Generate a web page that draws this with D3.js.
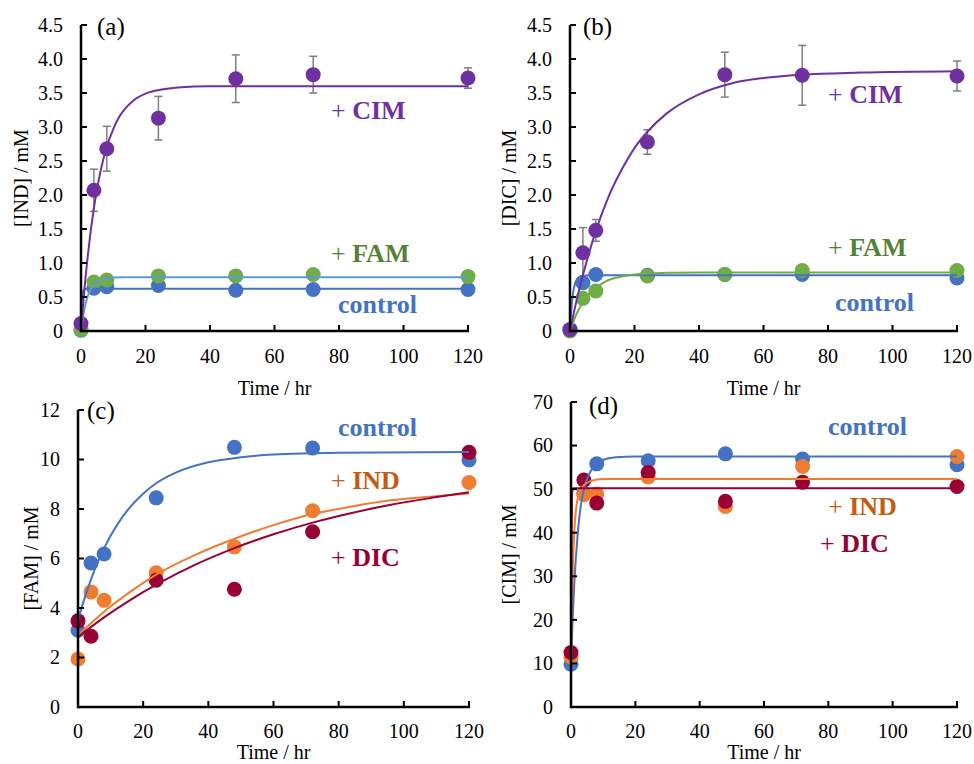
<!DOCTYPE html>
<html>
<head>
<meta charset="utf-8">
<script src="https://cdn.jsdelivr.net/npm/d3@7"></script>
<style>
  body { margin: 0; background: #fff; }
  svg { display: block; }
  text { font-family: "Liberation Serif", "Times New Roman", Times, "DejaVu Serif", serif; }
</style>
</head>
<body>
<svg id="chart" width="974" height="764"></svg>
<script>
// sampling times (hr)
const times = [0, 4, 8, 24, 48, 72, 120];
const xTicks = [0, 20, 40, 60, 80, 100, 120];

// (a) [IND]
const aCIM = [0.11, 2.07, 2.68, 3.13, 3.71, 3.77, 3.72];
const aCIMerr = [0, 0.31, 0.33, 0.32, 0.35, 0.27, 0.15];
const aFAM = [0.02, 0.72, 0.75, 0.81, 0.81, 0.83, 0.80];
const aCtrl = [0.01, 0.63, 0.65, 0.67, 0.60, 0.61, 0.61];
const aCIMfit = [[0, 0], [1, 0.58], [2, 1.06], [4, 1.81], [6, 2.34], [8, 2.71], [10, 2.97], [12, 3.16], [16, 3.38], [20, 3.49], [25, 3.55], [30, 3.58], [40, 3.6], [120, 3.6]];
const aFAMfit = [[0, 0], [1, 0.31], [2, 0.5], [3, 0.61], [4, 0.68], [6, 0.75], [8, 0.776], [10, 0.785], [14, 0.79], [120, 0.79]];
const aCtrlfit = [[0, 0], [0.3, 0.45], [0.6, 0.57], [1, 0.61], [2, 0.62], [120, 0.62]];

// (b) [DIC]
const bCIM = [0.02, 1.15, 1.48, 2.78, 3.77, 3.76, 3.75];
const bCIMerr = [0, 0.37, 0.16, 0.18, 0.33, 0.44, 0.22];
const bFAM = [0.0, 0.48, 0.59, 0.81, 0.83, 0.89, 0.89];
const bCtrl = [0.02, 0.71, 0.83, 0.82, 0.83, 0.83, 0.78];
const bCIMfit = [[0, 0], [2, 0.44], [4, 0.82], [8, 1.47], [12, 1.98], [16, 2.37], [20, 2.69], [24, 2.93], [30, 3.2], [40, 3.48], [50, 3.64], [60, 3.72], [72, 3.77], [90, 3.8], [120, 3.82]];
const bFAMfit = [[0, 0], [1, 0.13], [2, 0.25], [4, 0.42], [6, 0.55], [8, 0.64], [10, 0.7], [12, 0.75], [16, 0.8], [20, 0.83], [25, 0.85], [30, 0.855], [40, 0.86], [120, 0.86]];
const bCtrlfit = [[0, 0], [0.5, 0.37], [1, 0.57], [2, 0.75], [3, 0.8], [4, 0.81], [6, 0.82], [120, 0.82]];

// (c) [FAM]
const cCtrl = [3.1, 5.82, 6.18, 8.45, 10.49, 10.46, 9.98];
const cIND = [1.94, 4.65, 4.31, 5.42, 6.47, 7.93, 9.07];
const cDIC = [3.48, 2.86, null, 5.12, 4.76, 7.08, 10.29];
const cCtrlfit = [[0, 3.5], [2, 4.39], [4, 5.16], [6, 5.83], [8, 6.42], [12, 7.36], [16, 8.08], [20, 8.62], [24, 9.04], [30, 9.47], [40, 9.89], [50, 10.09], [60, 10.2], [80, 10.27], [120, 10.3]];
const cINDfit = [[0, 2.9], [8, 3.85], [16, 4.65], [24, 5.35], [36, 6.15], [48, 6.8], [60, 7.35], [72, 7.8], [84, 8.1], [96, 8.35], [108, 8.5], [120, 8.63]];
const cDICfit = [[0, 2.83], [8, 3.62], [16, 4.32], [24, 4.94], [36, 5.75], [48, 6.42], [60, 6.98], [72, 7.45], [84, 7.84], [96, 8.17], [108, 8.44], [120, 8.68]];

// (d) [CIM]
const dCtrl = [9.8, 49.0, 55.8, 56.5, 58.1, 56.9, 55.6];
const dIND = [11.5, 48.7, 48.9, 52.8, 46.0, 55.2, 57.5];
const dDIC = [12.5, 52.1, 46.8, 53.8, 47.2, 51.6, 50.6];
const dCtrlfit = [[0, 10], [0.5, 20], [1, 28], [2, 39], [3, 46], [4, 50], [6, 54], [8, 55.8], [10, 56.7], [14, 57.3], [20, 57.5], [120, 57.5]];
const dINDfit = [[0, 11], [0.3, 24], [0.6, 33], [1, 40], [1.5, 45], [2, 47.5], [3, 49.8], [4, 50.9], [6, 51.8], [10, 52.3], [120, 52.3]];
const dDICfit = [[0, 12.5], [0.15, 35], [0.3, 48], [0.5, 50.2], [120, 50.2]];

const C = {
  purple: '#7030A0', blue: '#4472C4', green: '#70AD47', lightBlue: '#5B9BD5',
  orange: '#ED7D31', red: '#990033', err: '#7F7F7F'
};

const svg = d3.select('#chart');
svg.append('rect').attr('width', 974).attr('height', 764).attr('fill', '#fff');

const fmt1 = d => d === 0 ? '0' : d.toFixed(1);

const panels = [
  {
    letter: '(a)', x0: 81, x1: 468, yTop: 25, yBot: 331, yMax: 4.5, yStep: 0.5, fmt: fmt1,
    yTitle: '[IND] / mM', yTitleX: 22, xLabelY: 363, xTitleY: 395, letterPos: [97, 35],
    series: [
      { vals: aCtrl, color: C.blue, fit: aCtrlfit, fitColor: C.blue },
      { vals: aFAM, color: C.green, fit: aFAMfit, fitColor: C.lightBlue },
      { vals: aCIM, color: C.purple, err: aCIMerr, fit: aCIMfit, fitColor: C.purple }
    ],
    labels: [
      { text: 'CIM', plus: true, color: '#7030A0', x: 331, y: 119 },
      { text: 'FAM', plus: true, color: '#548235', x: 331, y: 262 },
      { text: 'control', plus: false, color: '#4472C4', x: 338, y: 313 }
    ]
  },
  {
    letter: '(b)', x0: 570, x1: 957, yTop: 25, yBot: 331, yMax: 4.5, yStep: 0.5, fmt: fmt1,
    yTitle: '[DIC] / mM', yTitleX: 510, xLabelY: 363, xTitleY: 395, letterPos: [583, 35],
    series: [
      { vals: bCtrl, color: C.blue, fit: bCtrlfit, fitColor: C.blue },
      { vals: bFAM, color: C.green, fit: bFAMfit, fitColor: C.green },
      { vals: bCIM, color: C.purple, err: bCIMerr, fit: bCIMfit, fitColor: C.purple }
    ],
    labels: [
      { text: 'CIM', plus: true, color: '#7030A0', x: 828, y: 103 },
      { text: 'FAM', plus: true, color: '#548235', x: 828, y: 256 },
      { text: 'control', plus: false, color: '#4472C4', x: 835, y: 311 }
    ]
  },
  {
    letter: '(c)', x0: 78, x1: 469, yTop: 410, yBot: 707, yMax: 12, yStep: 2, fmt: d3.format('d'),
    yTitle: '[FAM] / mM', yTitleX: 32, xLabelY: 738, xTitleY: 759, letterPos: [87, 419],
    series: [
      { vals: cCtrl, color: C.blue, fit: cCtrlfit, fitColor: C.blue },
      { vals: cIND, color: C.orange, fit: cINDfit, fitColor: C.orange },
      { vals: cDIC, color: C.red, fit: cDICfit, fitColor: C.red }
    ],
    labels: [
      { text: 'control', plus: false, color: '#4472C4', x: 338, y: 436 },
      { text: 'IND', plus: true, color: '#C55A11', x: 331, y: 489 },
      { text: 'DIC', plus: true, color: '#990033', x: 331, y: 566 }
    ]
  },
  {
    letter: '(d)', x0: 571, x1: 957, yTop: 402, yBot: 707, yMax: 70, yStep: 10, fmt: d3.format('d'),
    yTitle: '[CIM] / mM', yTitleX: 510, xLabelY: 738, xTitleY: 759, letterPos: [589, 414],
    series: [
      { vals: dCtrl, color: C.blue, fit: dCtrlfit, fitColor: C.blue },
      { vals: dIND, color: C.orange, fit: dINDfit, fitColor: C.orange },
      { vals: dDIC, color: C.red, fit: dDICfit, fitColor: C.red }
    ],
    labels: [
      { text: 'control', plus: false, color: '#4472C4', x: 828, y: 435 },
      { text: 'IND', plus: true, color: '#C55A11', x: 828, y: 515 },
      { text: 'DIC', plus: true, color: '#990033', x: 820, y: 552 }
    ]
  }
];

function drawPanel(p) {
  const g = svg.append('g');
  const x = d3.scaleLinear().domain([0, 120]).range([p.x0, p.x1]);
  const y = d3.scaleLinear().domain([0, p.yMax]).range([p.yBot, p.yTop]);
  const yTicks = d3.range(0, p.yMax + p.yStep / 2, p.yStep);

  // error bars
  p.series.forEach(s => {
    if (!s.err) return;
    const eg = g.append('g').attr('stroke', C.err).attr('stroke-width', 1.5).attr('fill', 'none');
    times.forEach((t, i) => {
      const e = s.err[i];
      if (!e || s.vals[i] == null) return;
      const cx = x(t), yt = y(s.vals[i] + e), yb = y(s.vals[i] - e);
      eg.append('line').attr('x1', cx).attr('x2', cx).attr('y1', yt).attr('y2', yb);
      eg.append('line').attr('x1', cx - 4).attr('x2', cx + 4).attr('y1', yt).attr('y2', yt);
      eg.append('line').attr('x1', cx - 4).attr('x2', cx + 4).attr('y1', yb).attr('y2', yb);
    });
  });

  // points
  p.series.forEach(s => {
    g.append('g').selectAll('circle')
      .data(times.map((t, i) => [t, s.vals[i]]).filter(d => d[1] != null))
      .join('circle')
        .attr('cx', d => x(d[0]))
        .attr('cy', d => y(d[1]))
        .attr('r', 7.5)
        .attr('fill', s.color);
  });

  // fitted curves
  const line = d3.line().x(d => x(d[0])).y(d => y(d[1])).curve(d3.curveMonotoneX);
  p.series.forEach(s => {
    g.append('path').datum(s.fit)
      .attr('fill', 'none')
      .attr('stroke', s.fitColor)
      .attr('stroke-width', 2)
      .attr('d', line);
  });

  // axes (inward ticks)
  const ax = g.append('g').attr('stroke', '#000');
  ax.selectAll('.xt').data(xTicks).join('line')
    .attr('x1', d => x(d)).attr('x2', d => x(d))
    .attr('y1', p.yBot).attr('y2', p.yBot - 6)
    .attr('stroke-width', 2);
  ax.selectAll('.yt').data(yTicks).join('line')
    .attr('x1', p.x0).attr('x2', p.x0 + 6)
    .attr('y1', d => y(d)).attr('y2', d => y(d))
    .attr('stroke-width', 2);
  ax.append('line').attr('x1', p.x0).attr('x2', p.x1 + 1)
    .attr('y1', p.yBot).attr('y2', p.yBot).attr('stroke-width', 2.5);
  ax.append('line').attr('x1', p.x0).attr('x2', p.x0)
    .attr('y1', p.yBot + 1.25).attr('y2', p.yTop).attr('stroke-width', 2.5);

  // tick labels
  g.append('g').selectAll('text').data(xTicks).join('text')
    .attr('x', d => x(d)).attr('y', p.xLabelY)
    .attr('text-anchor', 'middle').attr('font-size', 20)
    .text(d => d);
  g.append('g').selectAll('text').data(yTicks).join('text')
    .attr('x', p.x0 - 18).attr('y', d => y(d)).attr('dy', '0.34em')
    .attr('text-anchor', 'end').attr('font-size', 20)
    .text(p.fmt);

  // titles
  g.append('text')
    .attr('x', (p.x0 + p.x1) / 2).attr('y', p.xTitleY)
    .attr('text-anchor', 'middle').attr('font-size', 20)
    .text('Time / hr');
  g.append('text')
    .attr('transform', `translate(${p.yTitleX},${(p.yTop + p.yBot) / 2}) rotate(-90)`)
    .attr('text-anchor', 'middle').attr('dy', '0.32em').attr('font-size', 20)
    .text(p.yTitle);
  g.append('text')
    .attr('x', p.letterPos[0]).attr('y', p.letterPos[1])
    .attr('font-size', 25)
    .text(p.letter);

  // series labels
  p.labels.forEach(l => {
    const t = g.append('text').attr('x', l.x).attr('y', l.y)
      .attr('font-size', 26).attr('fill', l.color);
    if (l.plus) t.append('tspan').attr('font-weight', 'normal').text('+ ');
    t.append('tspan').attr('font-weight', 'bold').text(l.text);
  });
}

panels.forEach(drawPanel);
</script>
</body>
</html>
